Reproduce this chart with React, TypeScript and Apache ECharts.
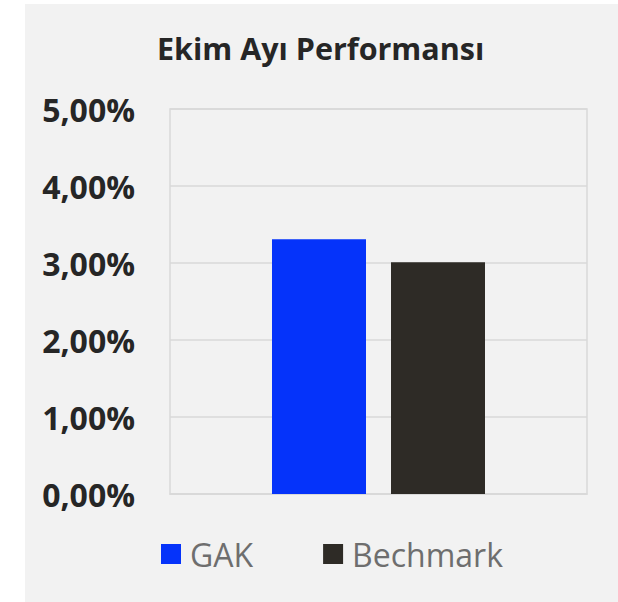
import React, { useEffect, useRef } from "react";
import * as echarts from "echarts";

const categories = ["Ekim"];
const seriesNames = ["GAK", "Bechmark"];
const gakValues = [3.31];
const benchmarkValues = [3.01];
const yTicks = [0, 1, 2, 3, 4, 5];
const titleText = "Ekim Ayı Performansı";

export default function App() {
  const ref = useRef<HTMLDivElement>(null);
  useEffect(() => {
    if (!ref.current) return;
    const chart = echarts.init(ref.current, undefined, { renderer: "svg" });
    chart.setOption({
      animation: false,
      graphic: [
        {
          type: "rect",
          left: 25,
          top: 4,
          z: -10,
          shape: { width: 593, height: 598 },
          style: { fill: "#f2f2f2" },
          silent: true,
        },
      ],
      title: {
        text: titleText,
        left: 157,
        top: 32,
        padding: 0,
        textStyle: {
          fontFamily: "Open Sans",
          fontWeight: "bold",
          fontSize: 30.5,
          color: "#262626",
        },
      },
      legend: {
        data: seriesNames,
        left: 161,
        top: 538,
        padding: 0,
        itemWidth: 20,
        itemHeight: 20,
        itemGap: 70,
        icon: "rect",
        textStyle: {
          fontFamily: "Open Sans",
          fontSize: 32,
          color: "#6e6e6e",
          padding: [0, 0, 0, 4],
        },
      },
      grid: {
        left: 170,
        right: 31,
        top: 109,
        bottom: 108,
        show: true,
        borderColor: "#d9d9d9",
        borderWidth: 1.5,
        containLabel: false,
      },
      xAxis: {
        type: "category",
        data: categories,
        axisLabel: { show: false },
        axisTick: { show: false },
        axisLine: { show: true, lineStyle: { color: "#d9d9d9", width: 1.5 } },
      },
      yAxis: {
        type: "value",
        min: yTicks[0],
        max: yTicks[yTicks.length - 1],
        interval: 1,
        axisLine: { show: false },
        axisTick: { show: false },
        splitLine: { lineStyle: { color: "#d9d9d9", width: 1.5 } },
        axisLabel: {
          margin: 35,
          fontFamily: "Open Sans",
          fontWeight: "bold",
          fontSize: 32,
          color: "#262626",
          formatter: (v: number) => v.toFixed(2).replace(".", ",") + "%",
        },
      },
      series: [
        {
          name: seriesNames[0],
          type: "bar",
          data: gakValues,
          barWidth: 94,
          barGap: "26.6%",
          itemStyle: { color: "#0533fa" },
        },
        {
          name: seriesNames[1],
          type: "bar",
          data: benchmarkValues,
          barWidth: 94,
          itemStyle: { color: "#2e2b26" },
        },
      ],
    });
    return () => chart.dispose();
  }, []);
  return (
    <div
      ref={ref}
      style={{ position: "fixed", left: 0, top: 0, width: 618, height: 602, background: "#ffffff" }}
    />
  );
}
